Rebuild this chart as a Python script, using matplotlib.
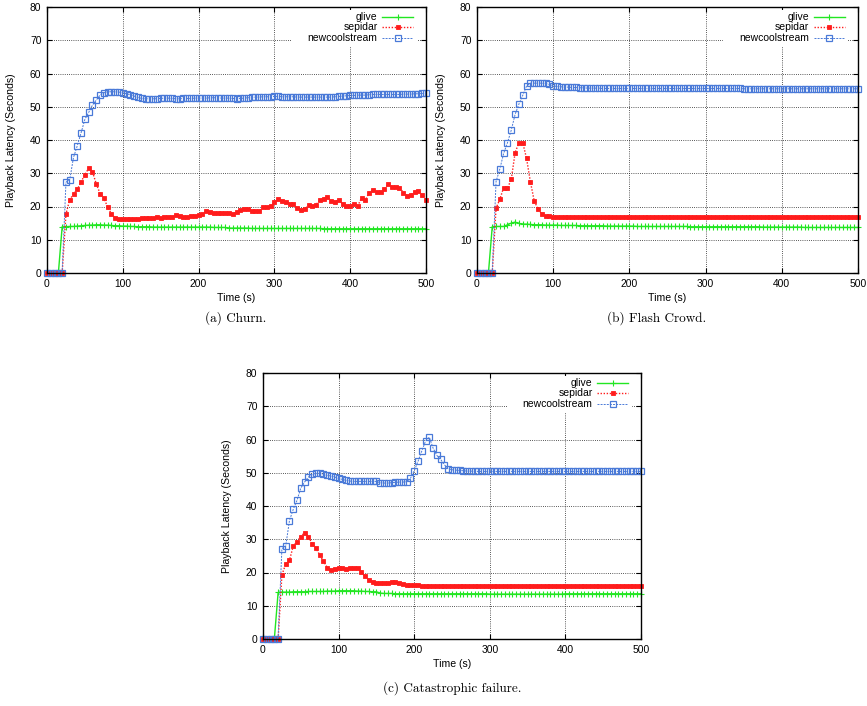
import numpy as np
import matplotlib
matplotlib.use("Agg")
import matplotlib.pyplot as plt
from matplotlib.lines import Line2D
from matplotlib.patches import Rectangle

# Sampling instants (seconds)
time_s = np.arange(0, 505, 5)

# ---- (a) Churn ----
churn_glive = [
    0, 0, 0, 0, 13.9, 13.9, 14.0, 14.0, 14.1, 14.2,
    14.3, 14.4, 14.4, 14.5, 14.5, 14.4, 14.4, 14.3, 14.2, 14.2,
    14.1, 14.1, 14.0, 14.0, 13.9, 13.9, 13.9, 13.9, 13.8, 13.8,
    13.8, 13.8, 13.8, 13.8, 13.8, 13.8, 13.8, 13.8, 13.8, 13.8,
    13.8, 13.8, 13.8, 13.8, 13.7, 13.7, 13.7, 13.7, 13.5, 13.5,
    13.5, 13.5, 13.5, 13.5, 13.4, 13.4, 13.4, 13.4, 13.4, 13.4,
    13.4, 13.4, 13.4, 13.4, 13.4, 13.4, 13.4, 13.4, 13.4, 13.4,
    13.4, 13.4, 13.4, 13.3, 13.3, 13.3, 13.3, 13.3, 13.3, 13.3,
    13.3, 13.3, 13.3, 13.3, 13.3, 13.3, 13.3, 13.3, 13.3, 13.3,
    13.3, 13.3, 13.3, 13.3, 13.3, 13.3, 13.3, 13.3, 13.3, 13.3,
    13.3,
]
churn_sepidar = [
    0, 0, 0, 0, 0, 17.7, 22.1, 23.7, 25.2, 27.4,
    29.6, 31.5, 30.4, 26.8, 23.9, 22.6, 19.8, 17.8, 16.5, 16.3,
    16.3, 16.3, 16.3, 16.3, 16.2, 16.4, 16.5, 16.5, 16.6, 16.8,
    16.6, 16.7, 16.7, 16.7, 17.5, 17.0, 16.8, 16.9, 17.2, 17.2,
    17.3, 17.7, 18.5, 18.3, 17.9, 18.0, 18.0, 17.9, 17.9, 17.8,
    18.3, 18.9, 19.3, 19.2, 18.7, 18.5, 18.5, 19.8, 19.9, 20.1,
    21.4, 22.4, 21.6, 21.4, 20.9, 20.7, 19.4, 19.0, 19.2, 20.4,
    20.2, 20.6, 21.9, 22.4, 23.0, 21.6, 21.5, 22.0, 20.7, 20.2,
    20.2, 20.7, 20.2, 22.6, 21.9, 24.2, 24.9, 24.5, 24.3, 25.2,
    26.7, 26.0, 25.9, 25.7, 24.2, 23.3, 23.5, 24.5, 24.7, 23.4,
    22.1,
]
churn_newcool = [
    0, 0, 0, 0, 0, 27.3, 28.1, 34.8, 38.3, 42.2,
    46.2, 48.3, 50.5, 52.0, 53.5, 54.2, 54.5, 54.5, 54.5, 54.4,
    54.2, 53.9, 53.6, 53.2, 52.8, 52.5, 52.4, 52.4, 52.4, 52.4,
    52.5, 52.6, 52.6, 52.5, 52.4, 52.4, 52.5, 52.5, 52.5, 52.6,
    52.6, 52.6, 52.6, 52.7, 52.7, 52.7, 52.6, 52.6, 52.6, 52.5,
    52.4, 52.5, 52.6, 52.7, 52.8, 52.9, 52.9, 53.0, 53.0, 53.0,
    53.1, 53.1, 53.0, 53.0, 53.0, 53.0, 52.9, 52.9, 52.9, 52.9,
    52.9, 52.9, 52.9, 52.9, 52.9, 52.9, 53.0, 53.1, 53.2, 53.3,
    53.4, 53.4, 53.5, 53.5, 53.5, 53.6, 53.7, 53.7, 53.7, 53.7,
    53.7, 53.7, 53.7, 53.7, 53.8, 53.8, 53.8, 53.9, 53.9, 54.0,
    54.0,
]

# ---- (b) Flash Crowd ----
flash_glive = [
    0, 0, 0, 0, 13.9, 14.0, 14.0, 14.0, 14.5, 15.0,
    15.3, 14.9, 14.7, 14.7, 14.6, 14.5, 14.5, 14.5, 14.4, 14.4,
    14.4, 14.4, 14.3, 14.3, 14.3, 14.3, 14.3, 14.2, 14.2, 14.2,
    14.2, 14.2, 14.2, 14.2, 14.1, 14.1, 14.1, 14.1, 14.1, 14.1,
    14.1, 14.1, 14.0, 14.0, 14.0, 14.0, 14.0, 14.0, 14.0, 14.0,
    14.0, 14.0, 14.0, 14.0, 14.0, 14.0, 13.9, 13.9, 13.9, 13.9,
    13.9, 13.9, 13.9, 13.9, 13.9, 13.9, 13.9, 13.9, 13.9, 13.9,
    13.9, 13.9, 13.9, 13.9, 13.9, 13.8, 13.8, 13.8, 13.8, 13.8,
    13.8, 13.8, 13.8, 13.8, 13.8, 13.8, 13.7, 13.7, 13.7, 13.7,
    13.7, 13.7, 13.7, 13.7, 13.7, 13.7, 13.7, 13.7, 13.7, 13.7,
    13.7,
]
flash_sepidar = [
    0, 0, 0, 0, 0, 19.5, 22.2, 25.7, 25.5, 28.2,
    36.2, 39.2, 39.2, 34.5, 27.5, 21.8, 19.2, 17.8, 17.2, 17.0,
    16.9, 16.9, 16.9, 16.9, 16.9, 16.8, 16.8, 16.8, 16.8, 16.8,
    16.8, 16.8, 16.8, 16.8, 16.8, 16.8, 16.8, 16.8, 16.8, 16.8,
    16.8, 16.8, 16.8, 16.8, 16.8, 16.8, 16.8, 16.8, 16.8, 16.8,
    16.8, 16.8, 16.8, 16.8, 16.8, 16.8, 16.8, 16.8, 16.8, 16.8,
    16.8, 16.8, 16.8, 16.8, 16.8, 16.8, 16.8, 16.8, 16.8, 16.8,
    16.8, 16.8, 16.8, 16.8, 16.8, 16.8, 16.8, 16.8, 16.8, 16.8,
    16.8, 16.8, 16.8, 16.8, 16.8, 16.8, 16.8, 16.8, 16.8, 16.8,
    16.8, 16.8, 16.8, 16.8, 16.8, 16.8, 16.8, 16.8, 16.8, 16.8,
    16.8,
]
flash_newcool = [
    0, 0, 0, 0, 0, 27.5, 31.3, 36.0, 39.2, 43.0,
    47.7, 50.8, 53.4, 56.2, 57.1, 57.1, 57.1, 57.1, 57.0, 56.7,
    56.3, 56.1, 56.0, 55.9, 55.9, 55.8, 55.8, 55.7, 55.7, 55.6,
    55.6, 55.6, 55.6, 55.5, 55.5, 55.5, 55.5, 55.5, 55.5, 55.5,
    55.5, 55.5, 55.5, 55.5, 55.5, 55.5, 55.5, 55.5, 55.5, 55.5,
    55.5, 55.5, 55.5, 55.5, 55.5, 55.5, 55.5, 55.5, 55.5, 55.5,
    55.5, 55.5, 55.5, 55.5, 55.5, 55.5, 55.5, 55.5, 55.5, 55.5,
    55.4, 55.4, 55.4, 55.4, 55.4, 55.4, 55.4, 55.4, 55.4, 55.4,
    55.4, 55.4, 55.4, 55.4, 55.4, 55.4, 55.4, 55.4, 55.4, 55.4,
    55.4, 55.4, 55.4, 55.4, 55.4, 55.4, 55.4, 55.4, 55.4, 55.4,
    55.4,
]

# ---- (c) Catastrophic failure ----
failure_glive = [
    0, 0, 0, 0, 14.0, 14.1, 14.1, 14.1, 14.2, 14.2,
    14.2, 14.2, 14.3, 14.3, 14.3, 14.3, 14.3, 14.4, 14.4, 14.4,
    14.5, 14.5, 14.5, 14.5, 14.5, 14.4, 14.4, 14.3, 14.3, 14.2,
    14.2, 13.8, 13.7, 13.7, 13.7, 13.6, 13.6, 13.6, 13.6, 13.6,
    13.6, 13.6, 13.6, 13.6, 13.6, 13.6, 13.6, 13.6, 13.6, 13.6,
    13.6, 13.6, 13.6, 13.6, 13.6, 13.6, 13.6, 13.6, 13.6, 13.6,
    13.5, 13.5, 13.5, 13.5, 13.5, 13.5, 13.5, 13.5, 13.5, 13.5,
    13.5, 13.5, 13.5, 13.5, 13.5, 13.5, 13.5, 13.5, 13.5, 13.5,
    13.6, 13.6, 13.6, 13.6, 13.6, 13.6, 13.6, 13.6, 13.6, 13.6,
    13.6, 13.6, 13.6, 13.6, 13.6, 13.6, 13.6, 13.6, 13.6, 13.6,
    13.6,
]
failure_sepidar = [
    0, 0, 0, 0, 0, 19.3, 22.5, 23.7, 27.9, 29.3,
    30.8, 32.0, 30.8, 28.7, 27.3, 25.3, 23.4, 21.5, 20.8, 21.0,
    21.5, 21.3, 21.2, 21.5, 21.5, 21.5, 20.1, 18.8, 17.8, 17.1,
    16.9, 16.8, 16.8, 16.9, 17.2, 17.0, 16.7, 16.5, 16.3, 16.2,
    16.1, 16.1, 16.0, 16.0, 16.0, 16.0, 16.0, 16.0, 16.0, 16.0,
    16.0, 16.0, 16.0, 16.0, 16.0, 16.0, 16.0, 16.0, 16.0, 16.0,
    15.9, 15.9, 15.9, 15.9, 15.9, 15.9, 15.9, 15.9, 15.9, 15.9,
    15.9, 15.9, 15.9, 15.9, 15.9, 15.9, 15.9, 15.9, 15.9, 15.9,
    15.9, 15.9, 15.9, 15.9, 15.9, 15.8, 15.8, 15.8, 15.8, 15.8,
    15.8, 15.8, 15.8, 15.8, 15.8, 15.8, 15.8, 15.8, 15.8, 15.8,
    15.8,
]
failure_newcool = [
    0, 0, 0, 0, 0, 27.2, 27.9, 35.6, 39.0, 41.7,
    45.4, 47.2, 48.7, 49.5, 49.8, 49.8, 49.5, 49.2, 49.0, 48.7,
    48.3, 48.0, 47.7, 47.5, 47.4, 47.4, 47.4, 47.4, 47.4, 47.4,
    47.4, 47.0, 46.9, 46.9, 47.0, 47.1, 47.2, 47.2, 47.3, 48.3,
    50.6, 53.4, 56.5, 59.5, 60.7, 57.4, 55.2, 54.0, 52.4, 51.2,
    50.9, 50.8, 50.7, 50.6, 50.5, 50.5, 50.4, 50.4, 50.4, 50.4,
    50.4, 50.4, 50.4, 50.4, 50.4, 50.4, 50.4, 50.4, 50.4, 50.4,
    50.4, 50.4, 50.4, 50.4, 50.4, 50.4, 50.4, 50.4, 50.4, 50.4,
    50.4, 50.4, 50.4, 50.4, 50.4, 50.4, 50.4, 50.4, 50.4, 50.4,
    50.4, 50.4, 50.4, 50.4, 50.4, 50.4, 50.4, 50.4, 50.4, 50.4,
    50.4,
]

series_names = ["glive", "sepidar", "newcoolstream"]
x_ticks = [0, 100, 200, 300, 400, 500]
y_ticks = [0, 10, 20, 30, 40, 50, 60, 70, 80]
captions = ["(a) Churn.", "(b) Flash Crowd.", "(c) Catastrophic failure."]

GREEN = "#22e622"
RED = "#ff1c1c"
BLUE = "#4a7ad8"

styles = [
    dict(color=GREEN, linestyle="-", linewidth=1.0, marker="+",
         markersize=5, markeredgewidth=0.8),
    dict(color=RED, linestyle=(0, (1, 1.2)), linewidth=1.0, marker="s",
         markersize=3.4, markeredgewidth=0.6),
    dict(color=BLUE, linestyle=(0, (2, 1.2)), linewidth=0.7, marker="s",
         markersize=4.5, markeredgewidth=0.9, markerfacecolor="none"),
]

plt.rcParams["font.family"] = ["Liberation Sans", "DejaVu Sans"]

W, H = 867, 706
fig = plt.figure(figsize=(W / 100, H / 100), dpi=100)
fig.patch.set_facecolor("white")


def px_axes(left, top, right, bottom):
    return fig.add_axes([left / W, 1 - bottom / H, (right - left) / W, (bottom - top) / H])


def draw_panel(ax, values):
    for name, ys, st in zip(series_names, values, styles):
        ax.plot(time_s, ys, label=name, zorder=4, clip_on=False, **st)
    ax.set_xlim(0, 500)
    ax.set_ylim(0, 80)
    ax.set_xticks(x_ticks)
    ax.set_yticks(y_ticks)
    ax.tick_params(direction="in", length=3.5, width=0.8, labelsize=7.4,
                   top=True, right=True, pad=4)
    ax.grid(True, color="#222222", linestyle=(0, (1, 1.6)), linewidth=0.6)
    ax.set_axisbelow(True)
    for sp in ax.spines.values():
        sp.set_linewidth(1.0)
        sp.set_zorder(5)
    ax.set_xlabel("Time (s)", fontsize=7.6)
    ax.set_ylabel("Playback Latency (Seconds)", fontsize=7.6)
    ax.xaxis.set_label_coords(0.5, -0.075)
    ax.yaxis.set_label_coords(-0.082, 0.5)

    # key: labels right-aligned with samples on their right, on a white box
    ax.add_patch(Rectangle((0.645, 0.855), 0.33, 0.135, transform=ax.transAxes,
                           facecolor="white", edgecolor="none", zorder=2))
    rows = [0.963, 0.924, 0.884]
    for name, fy, st in zip(series_names, rows, styles):
        ax.text(0.872, fy, name, transform=ax.transAxes, ha="right", va="center",
                fontsize=7.5, zorder=6)
        ax.add_line(Line2D([0.884, 0.925, 0.966], [fy, fy, fy], transform=ax.transAxes,
                           markevery=[1], zorder=6, **st))


ax_a = px_axes(47, 7, 426, 273)
draw_panel(ax_a, [churn_glive, churn_sepidar, churn_newcool])
ax_b = px_axes(477, 7, 858, 273)
draw_panel(ax_b, [flash_glive, flash_sepidar, flash_newcool])
ax_c = px_axes(263, 373, 641, 639)
draw_panel(ax_c, [failure_glive, failure_sepidar, failure_newcool])

cap_kw = dict(ha="center", va="center", fontsize=9.5, family="cmr10")
fig.text(236 / W, 1 - 318 / H, captions[0], **cap_kw)
fig.text(657 / W, 1 - 318 / H, captions[1], **cap_kw)
fig.text(452 / W, 1 - 688 / H, captions[2], **cap_kw)

fig.savefig("out.png", dpi=100, facecolor="white")
